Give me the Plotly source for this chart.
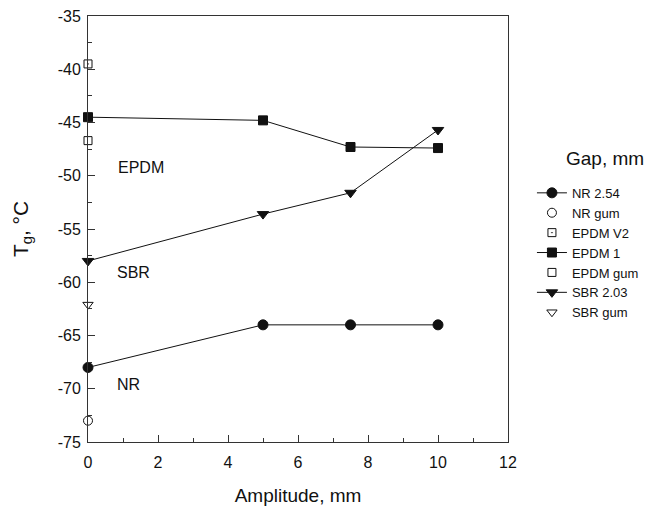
import plotly.graph_objects as go

# Data
nr_x = [0, 5, 7.5, 10]
nr_y = [-68, -64, -64, -64]
nr_gum_x = [0]
nr_gum_y = [-73]
epdm_v2_x = [0]
epdm_v2_y = [-39.5]
epdm1_x = [0, 5, 7.5, 10]
epdm1_y = [-44.5, -44.8, -47.3, -47.4]
epdm_gum_x = [0]
epdm_gum_y = [-46.7]
sbr_x = [0, 5, 7.5, 10]
sbr_y = [-58, -53.6, -51.6, -45.7]
sbr_gum_x = [0]
sbr_gum_y = [-62.1]

x_tickvals = [0, 2, 4, 6, 8, 10, 12]
x_ticktext = ["0", "2", "4", "6", "8", "10", "12"]
y_tickvals = [-75, -70, -65, -60, -55, -50, -45, -40, -35]
y_ticktext = ["-75", "-70", "-65", "-60", "-55", "-50", "-45", "-40", "-35"]

label_texts = ["EPDM", "SBR", "NR"]
label_x = [1.5, 1.3, 1.15]
label_y = [-49.2, -59.1, -69.6]

FONT = "Liberation Sans, Arial, sans-serif"
BLACK = "#111111"

fig = go.Figure()

def add(x, y, name, symbol, size, line=True, fill=BLACK):
    fig.add_trace(go.Scatter(
        x=x, y=y, name=name, cliponaxis=False,
        mode="lines+markers" if line else "markers",
        line=dict(color=BLACK, width=1),
        marker=dict(symbol=symbol, size=size, color=fill,
                    line=dict(color=BLACK, width=1)),
    ))

add(nr_x, nr_y, "NR 2.54", "circle", 10)
add(nr_gum_x, nr_gum_y, "NR gum", "circle-open", 9, line=False)
add(epdm_v2_x, epdm_v2_y, "EPDM V2", "square-open-dot", 8, line=False)
add(epdm1_x, epdm1_y, "EPDM 1", "square", 9)
add(epdm_gum_x, epdm_gum_y, "EPDM gum", "square-open", 8, line=False)
add(sbr_x, sbr_y, "SBR 2.03", "triangle-down", 10)
add(sbr_gum_x, sbr_gum_y, "SBR gum", "triangle-down-open", 9, line=False)

for t, x, y in zip(label_texts, label_x, label_y):
    fig.add_annotation(x=x, y=y, text=t, showarrow=False, xanchor="center",
                       yanchor="middle", font=dict(family=FONT, size=16, color=BLACK))

fig.add_annotation(x=1.23, y=0.665, xref="paper", yref="paper", text="Gap, mm",
                   showarrow=False, xanchor="center", yanchor="middle",
                   font=dict(family=FONT, size=19, color=BLACK))

axis_common = dict(
    showgrid=False, zeroline=False, showline=True, linecolor="#333333",
    linewidth=1, mirror=True, ticks="inside", ticklen=7, tickcolor="#333333",
    tickfont=dict(family=FONT, size=16, color=BLACK), automargin=False,
)

fig.update_xaxes(range=[0, 12], tickvals=x_tickvals, ticktext=x_ticktext,
                 ticklabelstandoff=6,
                 minor=dict(dtick=1, tick0=0, ticks="inside", ticklen=4, tickcolor="#333333"),
                 title=dict(text="Amplitude, mm", font=dict(family=FONT, size=19, color=BLACK), standoff=18),
                 **axis_common)
fig.update_yaxes(range=[-75, -35], tickvals=y_tickvals, ticktext=y_ticktext,
                 ticklabelstandoff=3,
                 minor=dict(dtick=2.5, tick0=-75, ticks="inside", ticklen=4, tickcolor="#333333"),
                 title=dict(text="T<sub>g</sub>, °C", font=dict(family=FONT, size=21, color=BLACK), standoff=23),
                 **axis_common)

fig.update_layout(
    width=662, height=507,
    margin=dict(l=88, r=154, t=16, b=65),
    plot_bgcolor="white", paper_bgcolor="white",
    font=dict(family=FONT, color=BLACK),
    showlegend=True,
    legend=dict(
        x=1.057, y=0.62, xanchor="left", yanchor="top",
        font=dict(family=FONT, size=13, color=BLACK),
        tracegroupgap=0, itemwidth=30, bgcolor="rgba(0,0,0,0)",
    ),
)

fig.write_html("out.html")
